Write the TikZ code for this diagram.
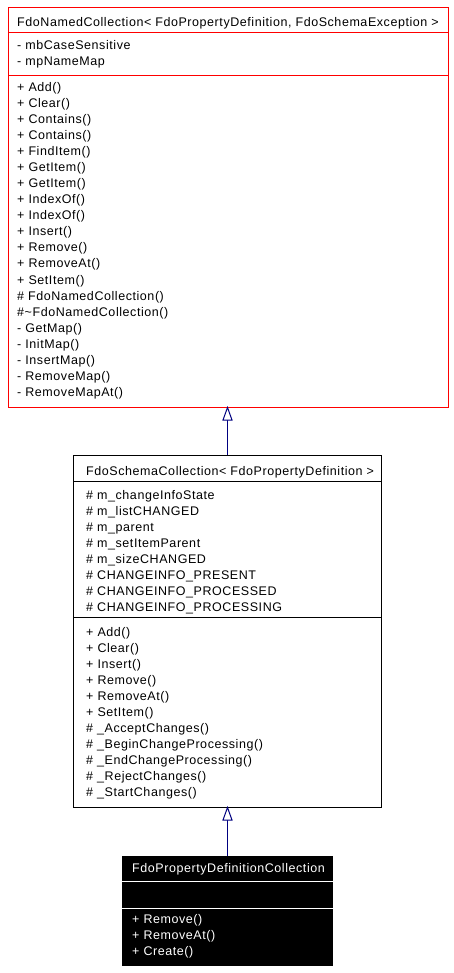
\documentclass[tikz,border=0pt]{standalone}
\usepackage{fontspec}
\setmainfont{Liberation Sans}[LetterSpace=4.5]
\begin{document}
\begin{tikzpicture}[x=1pt,y=-1pt,
  txt/.style={anchor=base west,inner sep=0pt,font=\fontsize{12.5}{14}\selectfont},
  wtxt/.style={txt,text=white},
  redbox/.style={draw=red,line width=1pt},
  blackbox/.style={draw=black,line width=1pt},
  inh/.style={draw=navy,line width=1pt},
  tri/.style={draw=navy,fill=white,line width=1pt}]
\definecolor{navy}{RGB}{0,0,128}
\useasboundingbox (0,0) rectangle (453,973);
% top box
\draw[redbox] (8,8) rectangle (448,407);
\draw[redbox] (8,33) -- (448,33);
\draw[redbox] (8,76) -- (448,76);
\node[txt] (t0) at (17,27) {FdoNamedCollection< FdoPropertyDefinition, FdoSchemaException >};
\foreach \s [count=\i from 0] in {- mbCaseSensitive,- mpNameMap}
  \node[txt] (ta\i) at (17,50+16*\i) {\s};
\foreach \s [count=\i from 0] in {+ Add(),+ Clear(),+ Contains(),+ Contains(),+ FindItem(),+ GetItem(),+ GetItem(),+ IndexOf(),+ IndexOf(),+ Insert(),+ Remove(),+ RemoveAt(),+ SetItem(),\# FdoNamedCollection(),\#\textasciitilde FdoNamedCollection(),- GetMap(),- InitMap(),- InsertMap(),- RemoveMap(),- RemoveMapAt()}
  \node[txt] (tm\i) at (17,92+16*\i) {\s};
% middle box
\draw[blackbox] (73,455) rectangle (381,807);
\draw[blackbox] (73,481) -- (381,481);
\draw[blackbox] (73,617) -- (381,617);
\node[txt] (m0) at (86,475) {FdoSchemaCollection< FdoPropertyDefinition >};
\foreach \s [count=\i from 0] in {\# m\_changeInfoState,\# m\_listCHANGED,\# m\_parent,\# m\_setItemParent,\# m\_sizeCHANGED,\# CHANGEINFO\_PRESENT,\# CHANGEINFO\_PROCESSED,\# CHANGEINFO\_PROCESSING}
  \node[txt] (ma\i) at (86,499+16*\i) {\s};
\foreach \s [count=\i from 0] in {+ Add(),+ Clear(),+ Insert(),+ Remove(),+ RemoveAt(),+ SetItem(),\# \_AcceptChanges(),\# \_BeginChangeProcessing(),\# \_EndChangeProcessing(),\# \_RejectChanges(),\# \_StartChanges()}
  \node[txt] (mm\i) at (86,636+16*\i) {\s};
% bottom box
\fill[black] (122,856) rectangle (333,966);
\draw[white,line width=1pt] (122,881) -- (333,881);
\draw[white,line width=1pt] (122,908) -- (333,908);
\node[wtxt] (b0) at (132,872) {FdoPropertyDefinitionCollection};
\foreach \s [count=\i from 0] in {+ Remove(),+ RemoveAt(),+ Create()}
  \node[wtxt] (bm\i) at (132,923+16*\i) {\s};
% inheritance arrows
\coordinate (a1tip) at (227.5,407.5);
\coordinate (a1base) at (227.5,420);
\coordinate (a1end) at (227.5,455);
\draw[inh] (a1base) -- (a1end);
\draw[tri] (a1tip) -- (223,420) -- (232,420) -- cycle;
\coordinate (a2tip) at (227.5,807.5);
\coordinate (a2base) at (227.5,820);
\coordinate (a2end) at (227.5,856);
\draw[inh] (a2base) -- (a2end);
\draw[tri] (a2tip) -- (223,820) -- (232,820) -- cycle;
\end{tikzpicture}
\end{document}
